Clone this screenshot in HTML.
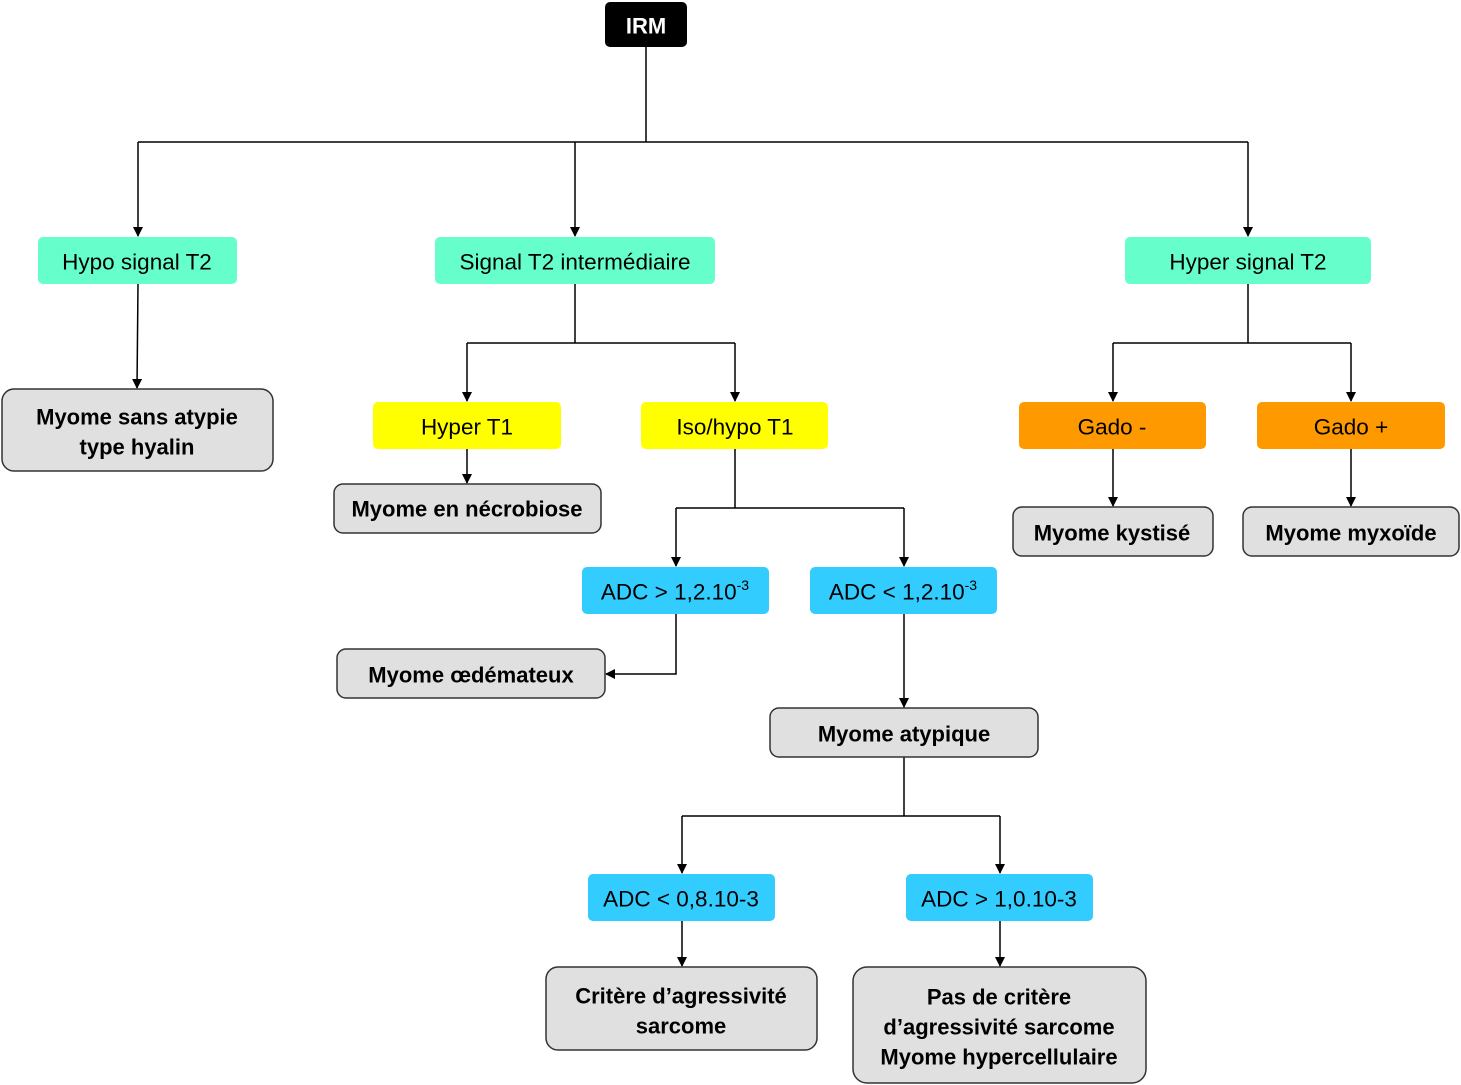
<!DOCTYPE html>
<html><head><meta charset="utf-8"><style>
html,body{margin:0;padding:0;background:#fff}
svg{display:block}
text{font-family:"Liberation Sans",sans-serif;font-size:22px;text-anchor:middle;dominant-baseline:central}
.n{font-size:22.5px}
.b{font-weight:bold;font-size:22px}
</style></head><body>
<svg width="1461" height="1085" viewBox="0 0 1461 1085" xmlns="http://www.w3.org/2000/svg">
<defs><marker id="a" markerWidth="10" markerHeight="10" refX="9" refY="5" orient="auto" markerUnits="userSpaceOnUse"><path d="M0,0 L10,5 L0,10 z" fill="#000"/></marker></defs>
<g stroke="#000" stroke-width="1.5" fill="none">
<path d="M646,47 V142 M138,142 H1248"/>
<path d="M138,142 V236" marker-end="url(#a)"/>
<path d="M575,142 V236" marker-end="url(#a)"/>
<path d="M1248,142 V236" marker-end="url(#a)"/>
<path d="M138,284 L137,388" marker-end="url(#a)"/>
<path d="M575,284 V343 M467,343 H735"/>
<path d="M467,343 V401" marker-end="url(#a)"/>
<path d="M735,343 V401" marker-end="url(#a)"/>
<path d="M467,449 V483" marker-end="url(#a)"/>
<path d="M735,449 V508 M676,508 H904"/>
<path d="M676,508 V566" marker-end="url(#a)"/>
<path d="M904,508 V566" marker-end="url(#a)"/>
<path d="M676,614 V674 H606" marker-end="url(#a)"/>
<path d="M904,614 V707" marker-end="url(#a)"/>
<path d="M904,757 V816 M682,816 H1000"/>
<path d="M682,816 V873" marker-end="url(#a)"/>
<path d="M1000,816 V873" marker-end="url(#a)"/>
<path d="M682,921 V966" marker-end="url(#a)"/>
<path d="M1000,921 V966" marker-end="url(#a)"/>
<path d="M1248,284 V343 M1113,343 H1351"/>
<path d="M1113,343 V401" marker-end="url(#a)"/>
<path d="M1351,343 V401" marker-end="url(#a)"/>
<path d="M1113,449 V506" marker-end="url(#a)"/>
<path d="M1351,449 V506" marker-end="url(#a)"/>
</g>
<rect x="605" y="2" width="82" height="45" rx="5" fill="#000"/>
<text x="646" y="26" class="b" fill="#fff">IRM</text>
<g fill="#66FFCC">
<rect x="38" y="237" width="199" height="47" rx="5"/>
<rect x="435" y="237" width="280" height="47" rx="5"/>
<rect x="1125" y="237" width="246" height="47" rx="5"/>
</g>
<g class="n">
<text x="137" y="262" class="n">Hypo signal T2</text>
<text x="575" y="262" class="n">Signal T2 intermédiaire</text>
<text x="1248" y="262" class="n">Hyper signal T2</text>
</g>
<g fill="#FFFF00">
<rect x="373" y="402" width="188" height="47" rx="5"/>
<rect x="641" y="402" width="187" height="47" rx="5"/>
</g>
<text x="467" y="427" class="n">Hyper T1</text>
<text x="735" y="427" class="n">Iso/hypo T1</text>
<g fill="#FF9900">
<rect x="1019" y="402" width="187" height="47" rx="5"/>
<rect x="1257" y="402" width="188" height="47" rx="5"/>
</g>
<text x="1112" y="427" class="n">Gado -</text>
<text x="1351" y="427" class="n">Gado +</text>
<g fill="#33CCFF">
<rect x="582" y="567" width="187" height="47" rx="5"/>
<rect x="810" y="567" width="187" height="47" rx="5"/>
<rect x="588" y="874" width="187" height="47" rx="5"/>
<rect x="906" y="874" width="187" height="47" rx="5"/>
</g>
<text x="675" y="592" class="n">ADC &gt; 1,2.10<tspan dy="-7" font-size="14">-3</tspan></text>
<text x="903" y="592" class="n">ADC &lt; 1,2.10<tspan dy="-7" font-size="14">-3</tspan></text>
<text x="681" y="899" class="n">ADC &lt; 0,8.10-3</text>
<text x="999" y="899" class="n">ADC &gt; 1,0.10-3</text>
<g fill="#E0E0E0" stroke="#333" stroke-width="1.5">
<rect x="2" y="389" width="271" height="82" rx="12"/>
<rect x="334" y="484" width="267" height="49" rx="9"/>
<rect x="337" y="649" width="268" height="49" rx="9"/>
<rect x="770" y="708" width="268" height="49" rx="9"/>
<rect x="546" y="967" width="271" height="83" rx="12"/>
<rect x="853" y="967" width="293" height="116" rx="14"/>
<rect x="1013" y="507" width="200" height="49" rx="9"/>
<rect x="1243" y="507" width="216" height="49" rx="9"/>
</g>
<text x="137" y="417" class="b">Myome sans atypie</text>
<text x="137" y="447" class="b">type hyalin</text>
<text x="467" y="509" class="b">Myome en nécrobiose</text>
<text x="471" y="675" class="b">Myome œdémateux</text>
<text x="904" y="734" class="b">Myome atypique</text>
<text x="681" y="996" class="b">Critère d’agressivité</text>
<text x="681" y="1026" class="b">sarcome</text>
<text x="999" y="997" class="b">Pas de critère</text>
<text x="999" y="1027" class="b">d’agressivité sarcome</text>
<text x="999" y="1057" class="b">Myome hypercellulaire</text>
<text x="1112" y="533" class="b">Myome kystisé</text>
<text x="1351" y="533" class="b">Myome myxoïde</text>
</svg>
</body></html>
